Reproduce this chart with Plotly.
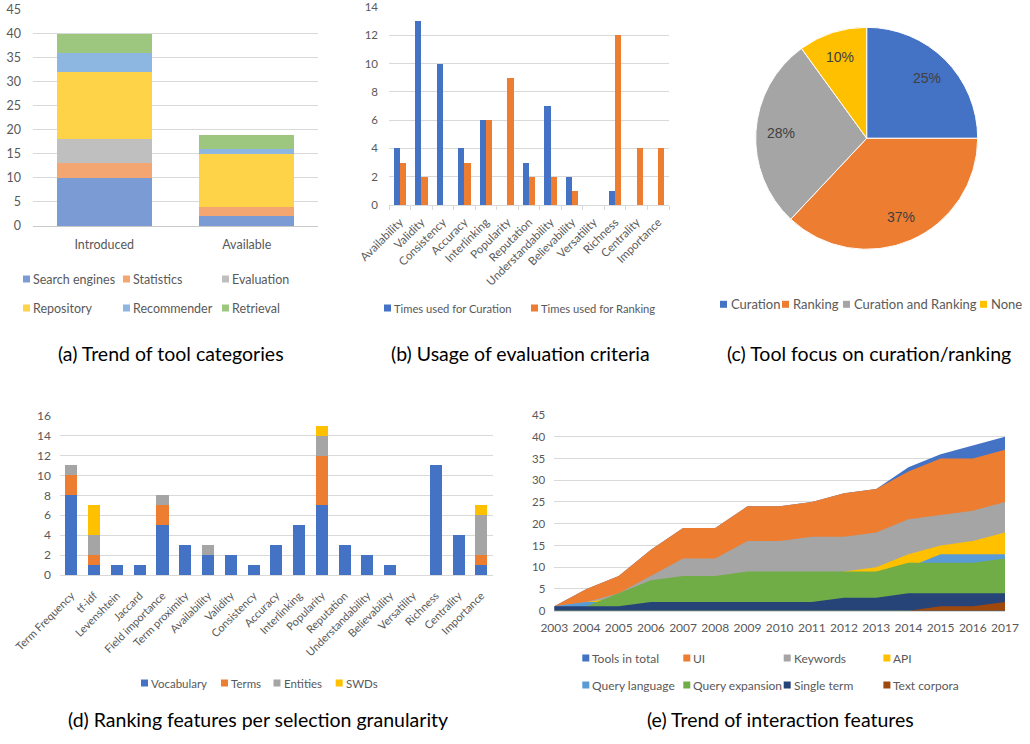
import math
import plotly.graph_objects as go

W, H = 1030, 744
def px(x): return x / W
def py(y): return 1 - y / H

FONT = "Lato"
TICK = "#595959"
GRID = "#D9D9D9"

# ---------------- data ----------------
# (a) Trend of tool categories
a_categories = ["Introduced", "Available"]
a_series_names = ["Search engines", "Statistics", "Evaluation", "Repository", "Recommender", "Retrieval"]
a_search_engines = [10, 2]
a_statistics = [3, 2]
a_evaluation = [5, 0]
a_repository = [14, 11]
a_recommender = [4, 1]
a_retrieval = [4, 3]
a_colors = ["#7B9BD5", "#F4A672", "#BFBFBF", "#FFD347", "#8DB6E1", "#9DC67E"]

# (b) Usage of evaluation criteria
b_criteria = ["Availability", "Validity", "Consistency", "Accuracy", "Interlinking", "Popularity",
              "Reputation", "Understandability", "Believability", "Versatility", "Richness",
              "Centrality", "Importance"]
b_curation = [4, 13, 10, 4, 6, 0, 3, 7, 2, 0, 1, 0, 0]
b_ranking = [3, 2, 0, 3, 6, 9, 2, 2, 1, 0, 12, 4, 4]
b_series_names = ["Times used for Curation", "Times used for Ranking"]
b_colors = ["#4472C4", "#ED7D31"]

# (c) Tool focus on curation/ranking
c_labels = ["Curation", "Ranking", "Curation and Ranking", "None"]
c_values = [25, 37, 28, 10]
c_colors = ["#4472C4", "#ED7D31", "#A5A5A5", "#FFC000"]

# (d) Ranking features per selection granularity
d_features = ["Term Frequency", "tf-idf", "Levenshtein", "Jaccard", "Field importance", "Term proximity",
              "Availability", "Validity", "Consistency", "Accuracy", "Interlinking", "Popularity",
              "Reputation", "Understandability", "Believability", "Versatility", "Richness",
              "Centrality", "Importance"]
d_vocabulary = [8, 1, 1, 1, 5, 3, 2, 2, 1, 3, 5, 7, 3, 2, 1, 0, 11, 4, 1]
d_terms =      [2, 1, 0, 0, 2, 0, 0, 0, 0, 0, 0, 5, 0, 0, 0, 0, 0, 0, 1]
d_entities =   [1, 2, 0, 0, 1, 0, 1, 0, 0, 0, 0, 2, 0, 0, 0, 0, 0, 0, 4]
d_swds =       [0, 3, 0, 0, 0, 0, 0, 0, 0, 0, 0, 1, 0, 0, 0, 0, 0, 0, 1]
d_series_names = ["Vocabulary", "Terms", "Entities", "SWDs"]
d_colors = ["#4472C4", "#ED7D31", "#A5A5A5", "#FFC000"]

# (e) Trend of interaction features
e_years = [2003, 2004, 2005, 2006, 2007, 2008, 2009, 2010, 2011, 2012, 2013, 2014, 2015, 2016, 2017]
e_tools_total =     [1, 5, 8, 14, 19, 19, 24, 24, 25, 27, 28, 33, 36, 38, 40]
e_ui =              [1, 5, 8, 14, 19, 19, 24, 24, 25, 27, 28, 32, 35, 35, 37]
e_keywords =        [1, 2, 4, 8, 12, 12, 16, 16, 17, 17, 18, 21, 22, 23, 25]
e_api =             [0, 2, 3, 3, 4, 4, 5, 5, 6, 9, 10, 13, 15, 16, 18]
e_query_language =  [1, 2, 2, 2, 3, 3, 4, 4, 5, 6, 7, 10, 13, 13, 13]
e_query_expansion = [0, 1, 4, 7, 8, 8, 9, 9, 9, 9, 9, 11, 11, 11, 12]
e_single_term =     [1, 1, 1, 2, 2, 2, 2, 2, 2, 3, 3, 4, 4, 4, 4]
e_text_corpora =    [0, 0, 0, 0, 0, 0, 0, 0, 0, 0, 0, 0, 1, 1, 2]
e_series_names = ["Tools in total", "UI", "Keywords", "API", "Query language",
                  "Query expansion", "Single term", "Text corpora"]
e_colors = ["#4472C4", "#ED7D31", "#A5A5A5", "#FFC000", "#5B9BD5", "#70AD47", "#264478", "#9E480E"]

fig = go.Figure()

# ---------------- (a) ----------------
a_values = [a_search_engines, a_statistics, a_evaluation, a_repository, a_recommender, a_retrieval]
for name, vals, col in zip(a_series_names, a_values, a_colors):
    fig.add_trace(go.Bar(x=a_categories, y=vals, name=name, marker=dict(color=col, line=dict(width=0)),
                         width=0.67, xaxis="x", yaxis="y", showlegend=False))

# ---------------- (b) ----------------
fig.add_trace(go.Bar(x=b_criteria, y=b_curation, name=b_series_names[0],
                     marker=dict(color=b_colors[0], line=dict(width=0)),
                     offset=-0.29, width=0.29, xaxis="x2", yaxis="y2", showlegend=False))
fig.add_trace(go.Bar(x=b_criteria, y=b_ranking, name=b_series_names[1],
                     marker=dict(color=b_colors[1], line=dict(width=0)),
                     offset=0.0, width=0.29, xaxis="x7", yaxis="y2", showlegend=False))

# ---------------- (c) ----------------
PIE_CX, PIE_CY, PIE_R = 866.7, 138.3, 111.0
fig.add_trace(go.Pie(labels=c_labels, values=c_values, sort=False, direction="clockwise", rotation=0,
                     marker=dict(colors=c_colors, line=dict(color="white", width=1)),
                     textinfo="none",
                     domain=dict(x=[px(PIE_CX - PIE_R), px(PIE_CX + PIE_R)],
                                 y=[py(PIE_CY + PIE_R), py(PIE_CY - PIE_R)]),
                     showlegend=False, hoverinfo="label+percent"))

# ---------------- (d) ----------------
for name, vals, col in zip(d_series_names, [d_vocabulary, d_terms, d_entities, d_swds], d_colors):
    fig.add_trace(go.Bar(x=d_features, y=vals, name=name, marker=dict(color=col, line=dict(width=0)),
                         width=0.53, xaxis="x3", yaxis="y3", showlegend=False))

# ---------------- (e) ----------------
e_values = [e_tools_total, e_ui, e_keywords, e_api, e_query_language, e_query_expansion,
            e_single_term, e_text_corpora]
for name, vals, col in zip(e_series_names, e_values, e_colors):
    fig.add_trace(go.Scatter(x=e_years, y=vals, name=name, mode="lines", fill="tozeroy",
                             fillcolor=col, line=dict(color=col, width=0),
                             xaxis="x4", yaxis="y4", showlegend=False))

tickfont = lambda s: dict(family=FONT, size=s, color=TICK)

fig.update_layout(
    template="none",
    width=W, height=H, margin=dict(l=0, r=0, t=0, b=0, pad=0, autoexpand=False),
    paper_bgcolor="white", plot_bgcolor="white",
    barmode="stack", showlegend=False,
    font=dict(family=FONT, color=TICK),
    # (a)
    xaxis=dict(domain=[px(33), px(318)], anchor="y", type="category", range=[-0.5, 1.5],
               showline=True, linecolor="#C8C8C8", linewidth=1, ticks="", showgrid=False,
               zeroline=False, automargin=False,
               tickfont=tickfont(12.5), ticklabelstandoff=7),
    yaxis=dict(domain=[py(226), py(9.5)], anchor="x", range=[0, 45], dtick=5,
               showgrid=True, gridcolor=GRID, gridwidth=1, zeroline=False, showline=False,
               ticks="", automargin=False,
               tickfont=tickfont(12.5), ticklabelstandoff=11),
    # (b)
    xaxis2=dict(domain=[px(389), px(669)], anchor="y2", type="category", range=[-0.5, 12.5],
                categoryorder="array", categoryarray=b_criteria,
                showline=True, linecolor=GRID, linewidth=1, ticks="outside", tickson="boundaries",
                ticklen=4, tickcolor=GRID, tickwidth=1, tickangle=-45, showgrid=False,
                zeroline=False, automargin=False,
                tickfont=tickfont(11.5), ticklabelstandoff=5),
    xaxis7=dict(overlaying="x2", anchor="y2", type="category", range=[-0.5, 12.5],
                categoryorder="array", categoryarray=b_criteria, visible=False, automargin=False),
    yaxis2=dict(domain=[py(205), py(7)], anchor="x2", range=[0, 14], dtick=2,
                showgrid=True, gridcolor=GRID, gridwidth=1, zeroline=False, showline=False,
                ticks="", automargin=False,
                tickfont=tickfont(11.5), ticklabelstandoff=10),
    # (d)
    xaxis3=dict(domain=[px(60), px(492.7)], anchor="y3", type="category", range=[-0.5, 18.5],
                categoryorder="array", categoryarray=d_features,
                showline=True, linecolor=GRID, linewidth=1, ticks="", tickangle=-45, showgrid=False,
                zeroline=False, automargin=False,
                tickfont=tickfont(11), ticklabelstandoff=9),
    yaxis3=dict(domain=[py(575), py(415.7)], anchor="x3", range=[0, 16], dtick=2,
                showgrid=True, gridcolor=GRID, gridwidth=1, zeroline=False, showline=False,
                ticks="", automargin=False,
                tickfont=tickfont(12), ticklabelstandoff=8),
    # (e)
    xaxis4=dict(domain=[px(554.3), px(1005)], anchor="y4", range=[2003, 2017],
                tickvals=e_years, ticktext=[str(y) for y in e_years],
                showline=True, linecolor=GRID, linewidth=1, ticks="", showgrid=False,
                zeroline=False, automargin=False,
                tickfont=tickfont(12), ticklabelstandoff=6),
    yaxis4=dict(domain=[py(610.7), py(415)], anchor="x4", range=[0, 45], dtick=5,
                showgrid=True, gridcolor=GRID, gridwidth=1, zeroline=False, showline=False,
                ticks="", automargin=False,
                tickfont=tickfont(11.5), ticklabelstandoff=8),
)

shapes = []
annotations = []

# ---------------- pie percentage labels (from the pie's own values) ----------------
total = sum(c_values)
cum = 0.0
for v in c_values:
    mid = 2 * math.pi * (cum + v / 2) / total
    cum += v
    lx = PIE_CX + 0.77 * PIE_R * math.sin(mid)
    ly = PIE_CY - 0.77 * PIE_R * math.cos(mid)
    annotations.append(dict(xref="paper", yref="paper", x=px(lx), y=py(ly), xanchor="center",
                            yanchor="middle", showarrow=False, text=f"{round(100 * v / total)}%",
                            font=dict(family="Liberation Sans", size=14, color="#404040")))

# ---------------- manual legends ----------------
def legend_entry(x_sq, y_c, label, color, size, sq=7, gap=8):
    shapes.append(dict(type="rect", xref="paper", yref="paper",
                       x0=px(x_sq), x1=px(x_sq + sq), y0=py(y_c + sq / 2), y1=py(y_c - sq / 2),
                       fillcolor=color, line=dict(width=0), layer="above"))
    annotations.append(dict(xref="paper", yref="paper", x=px(x_sq + gap), y=py(y_c),
                            xanchor="left", yanchor="middle", showarrow=False, text=label,
                            font=dict(family=FONT, size=size, color=TICK)))

# (a): 3 columns x 2 rows
a_cols = [23, 123, 222]
a_rows = [279, 308]
for i, (name, col) in enumerate(zip(a_series_names, a_colors)):
    legend_entry(a_cols[i % 3], a_rows[i // 3], name, col, 12.5)

# (b)
for x_sq, name, col in zip([384, 531], b_series_names, b_colors):
    legend_entry(x_sq, 308, name, col, 11.2)

# (c)
for x_sq, name, col in zip([720, 782, 843, 980], c_labels, c_colors):
    legend_entry(x_sq, 304.3, name, col, 13, gap=8.5)

# (d)
for x_sq, name, col in zip([141, 221, 273.5, 335.7], d_series_names, d_colors):
    legend_entry(x_sq, 683, name, col, 11.5)

# (e): 4 columns x 2 rows
e_cols = [582.3, 683.3, 783.7, 883.4]
e_rows = [658, 685]
for i, (name, col) in enumerate(zip(e_series_names, e_colors)):
    legend_entry(e_cols[i % 4], e_rows[i // 4], name, col, 12)

# ---------------- captions ----------------
captions = [
    ("(a) Trend of tool categories", 170.5, 353),
    ("(b) Usage of evaluation criteria", 520, 353),
    ("(c) Tool focus on curation/ranking", 868.7, 353),
    ("(d) Ranking features per selection granularity", 257.6, 719),
    ("(e) Trend of interaction features", 780, 719),
]
for text, xc, yc in captions:
    annotations.append(dict(xref="paper", yref="paper", x=px(xc), y=py(yc), xanchor="center",
                            yanchor="middle", showarrow=False, text=text,
                            font=dict(family=FONT, size=19.5, color="black")))

fig.update_layout(shapes=shapes, annotations=annotations)
fig.write_html("out.html")
